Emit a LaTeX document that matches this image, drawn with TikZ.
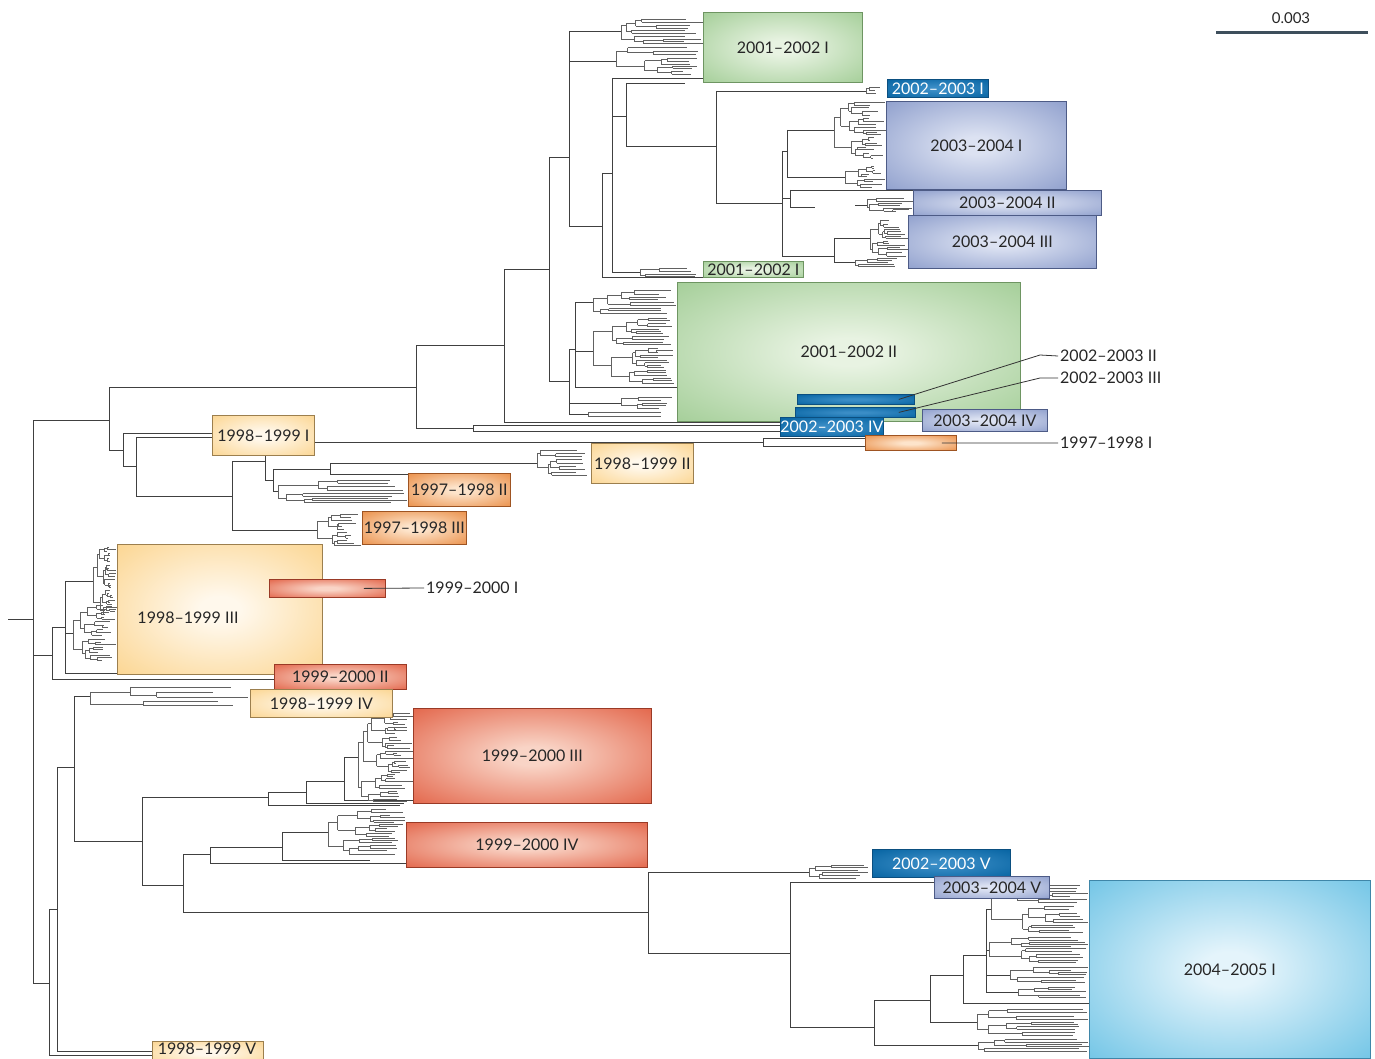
\documentclass[tikz,border=0pt]{standalone}
\usepackage{fontspec}
\setmainfont{Lato}
\definecolor{grIn}{HTML}{E8F3E2}\definecolor{grOut}{HTML}{97C78A}\definecolor{grLine}{HTML}{6E9562}
\definecolor{viIn}{HTML}{DCE2F2}\definecolor{viOut}{HTML}{8193C6}\definecolor{viLine}{HTML}{4D5B86}
\definecolor{dbIn}{HTML}{3A8DC6}\definecolor{dbOut}{HTML}{0865A3}\definecolor{dbLine}{HTML}{0B4F80}
\definecolor{orIn}{HTML}{FDE4CB}\definecolor{orOut}{HTML}{E8863A}\definecolor{orLine}{HTML}{9E5422}
\definecolor{yeIn}{HTML}{FFF8EC}\definecolor{yeOut}{HTML}{FBCF80}\definecolor{yeLine}{HTML}{9C7F4E}
\definecolor{reIn}{HTML}{F9D4C6}\definecolor{reOut}{HTML}{E0583B}\definecolor{reLine}{HTML}{9A3A26}
\definecolor{cyIn}{HTML}{E4F4FB}\definecolor{cyOut}{HTML}{5CBCE2}\definecolor{cyLine}{HTML}{3F86A8}
\definecolor{scalebar}{HTML}{3E4F5C}
\pgfdeclareradialshading{shGr}{\pgfpointorigin}{color(0bp)=(grIn); color(5bp)=(grIn); color(42bp)=(grOut); color(50bp)=(grOut)}
\pgfdeclareradialshading{shVi}{\pgfpointorigin}{color(0bp)=(viIn); color(5bp)=(viIn); color(42bp)=(viOut); color(50bp)=(viOut)}
\pgfdeclareradialshading{shDb}{\pgfpointorigin}{color(0bp)=(dbIn); color(5bp)=(dbIn); color(35bp)=(dbOut); color(50bp)=(dbOut)}
\pgfdeclareradialshading{shOr}{\pgfpointorigin}{color(0bp)=(orIn); color(5bp)=(orIn); color(40bp)=(orOut); color(50bp)=(orOut)}
\pgfdeclareradialshading{shYe}{\pgfpointorigin}{color(0bp)=(yeIn); color(5bp)=(yeIn); color(42bp)=(yeOut); color(50bp)=(yeOut)}
\pgfdeclareradialshading{shRe}{\pgfpointorigin}{color(0bp)=(reIn); color(5bp)=(reIn); color(40bp)=(reOut); color(50bp)=(reOut)}
\pgfdeclareradialshading{shCy}{\pgfpointorigin}{color(0bp)=(cyIn); color(5bp)=(cyIn); color(42bp)=(cyOut); color(50bp)=(cyOut)}
\newcommand\labfont{\fontsize{16}{19}\selectfont}
\tikzset{
  tree/.style={draw=black!75, line width=0.8pt},
  twig/.style={draw=black!62, line width=0.6pt},
  cb/.style={inner sep=0pt, anchor=north west, font=\labfont, text=black!85, line width=0.8pt, shade},
  gr/.style={cb, shading=shGr, draw=grLine},
  vi/.style={cb, shading=shVi, draw=viLine},
  db/.style={cb, shading=shDb, draw=dbLine, text=white},
  or/.style={cb, shading=shOr, draw=orLine},
  ye/.style={cb, shading=shYe, draw=yeLine},
  re/.style={cb, shading=shRe, draw=reLine},
  cy/.style={cb, shading=shCy, draw=cyLine},
  lbl/.style={font=\labfont, text=black!85, inner sep=2pt, anchor=west},
  lead/.style={draw=black!80, line width=0.8pt}
}
\def\rtmin{4}
\def\rtjit{20}
\newcommand\rtree[4]{%
  \begingroup
  \edef\rtXo{#1}\edef\rtT{#2}\edef\rtBo{#3}\edef\rtE{#4}%
  \pgfmathsetmacro\rtS{\rtT+(0.3+0.4*rnd)*(\rtBo-\rtT)}%
  \pgfmathsetmacro\rtYa{(\rtT+\rtS)/2}%
  \pgfmathsetmacro\rtYb{(\rtS+\rtBo)/2}%
  \draw[twig] (\rtXo,\rtYa) -- (\rtXo,\rtYb);
  \rtchild{\rtXo}{\rtT}{\rtS}{\rtE}%
  \rtchild{\rtXo}{\rtS}{\rtBo}{\rtE}%
  \endgroup}
\newcommand\rtchild[4]{%
  \begingroup
  \edef\rcP{#1}\edef\rcT{#2}\edef\rcB{#3}\edef\rcE{#4}%
  \pgfmathsetmacro\rcY{(\rcT+\rcB)/2}%
  \pgfmathsetmacro\rcH{\rcB-\rcT}%
  \ifdim\rcH pt<\rtmin pt
    \pgfmathsetmacro\rcX{max(\rcP+2,\rcE-rnd*\rtjit)}%
    \draw[twig] (\rcP,\rcY) -- (\rcX,\rcY);
  \else
    \pgfmathsetmacro\rcX{\rcP+(0.04+0.3*rnd)*(\rcE-\rcP)}%
    \draw[twig] (\rcP,\rcY) -- (\rcX,\rcY);
    \rtree{\rcX}{\rcT}{\rcB}{\rcE}%
  \fi
  \endgroup}
\newcommand\rnode[5]{%
  \pgfmathsetmacro\rnY{(#3+#4)/2}%
  \draw[tree] (#1,\rnY) -- (#2,\rnY);
  \rtree{#2}{#3}{#4}{#5}}
\newcommand\cbox[7]{%
  \node[#6, minimum width={(#4-#2)*1pt}, minimum height={(#5-#3)*1pt}] (#1) at (#2,#3) {#7};}
\begin{document}
\begin{tikzpicture}[x=1pt,y=-1pt]
\useasboundingbox (0,0) rectangle (1375,1059);
\fill[white] (0,0) rectangle (1375,1059);
\pgfmathsetseed{4711}
% ---------- backbone ----------
\draw[tree] (8,619) -- (33,619) (33,420) -- (33,983)
  (33,420) -- (109,420) (109,387) -- (109,450) (109,387) -- (416,387)
  (416,345) -- (416,428) (416,345) -- (504,345) (504,269) -- (504,422)
  (504,269) -- (549,269) (504,422) -- (780,422)
  (416,428) -- (473,428) (473,425) -- (473,431) (473,425) -- (780,425) (473,431) -- (780,431);
% top clade
\draw[tree] (549,157) -- (549,381) (549,157) -- (569,157) (569,31) -- (569,226)
  (569,226) -- (602,226) (602,173) -- (602,277) (602,173) -- (612,173) (602,277) -- (703,277)
  (612,78) -- (612,272) (612,78) -- (703,78) (612,116) -- (626,116)
  (626,83) -- (626,146) (626,83) -- (685,83) (626,146) -- (716,146)
  (716,91) -- (716,203) (716,203) -- (782,203) (782,151) -- (782,256)
  (782,151) -- (787,151) (787,130) -- (787,177) (782,198) -- (790,198)
  (790,190) -- (790,207) (790,190) -- (913,190) (790,207) -- (815,207) (855,205) -- (867,205)
  (782,256) -- (834,256) (834,238) -- (834,262);
\rnode{569}{621}{17}{45}{703}
\rnode{569}{616}{46}{76}{703}
\def\rtmin{5}
\rnode{612}{640}{266}{278}{703}
\rnode{716}{866}{86}{96}{887}
\def\rtmin{4}
\rnode{787}{834}{100}{160}{886}
\rnode{787}{845}{165}{189}{886}
\rtree{867}{197}{213}{913}
\rnode{834}{870}{218}{258}{908}
\rnode{834}{855}{257}{268}{908}
% 2001-2002 II clade
\draw[tree] (549,381) -- (569,381) (569,349) -- (569,414) (569,349) -- (575,349)
  (575,302) -- (575,387) (575,387) -- (677,387);
\rnode{575}{593}{289}{315}{677}
\rnode{575}{593}{317}{385}{677}
\rnode{569}{621}{396}{410}{677}
\rnode{569}{588}{411}{418}{677}
% 1998-1999 I / 1997-1998 clades
\draw[tree] (109,450) -- (123,450) (123,433) -- (123,466) (123,433) -- (212,433)
  (300,442) -- (763,442) (763,438) -- (763,446) (763,438) -- (866,438) (763,446) -- (866,446)
  (123,466) -- (136,466) (136,437) -- (136,496) (136,437) -- (212,437) (136,496) -- (232,496)
  (232,461) -- (232,530) (232,461) -- (265,461) (265,445) -- (265,480) (265,480) -- (273,480)
  (273,469) -- (273,491) (273,469) -- (330,469) (330,463) -- (330,474) (330,474) -- (408,474)
  (232,530) -- (317,530);
\rnode{330}{537}{449}{477}{591}
\rnode{273}{278}{478}{504}{408}
\rtree{317}{513}{547}{362}
% 1998-1999 III clade
\draw[tree] (33,655) -- (52,655) (52,627) -- (52,679) (52,679) -- (274,679) (52,627) -- (65,627)
  (65,581) -- (65,673) (65,673) -- (117,673);
\rnode{65}{93}{546}{616}{117}
\rnode{65}{73}{604}{662}{117}
% lower clades
\draw[tree] (33,983) -- (49,983) (49,909) -- (49,1055) (49,909) -- (57,909)
  (57,767) -- (57,1051) (57,1051) -- (152,1051) (49,1055) -- (152,1055)
  (57,767) -- (74,767) (74,696) -- (74,841) (74,841) -- (142,841)
  (142,797) -- (142,885) (142,797) -- (268,797) (268,792) -- (268,805) (268,805) -- (400,805)
  (268,792) -- (306,792) (306,781) -- (306,803) (306,803) -- (404,803) (306,781) -- (344,781)
  (344,757) -- (344,800) (344,800) -- (413,800)
  (142,885) -- (183,885) (183,854) -- (183,912) (183,854) -- (210,854)
  (210,847) -- (210,863) (210,863) -- (406,863) (210,847) -- (282,847)
  (282,832) -- (282,860) (282,860) -- (370,860)
  (183,912) -- (648,912) (648,872) -- (648,953)
  (648,953) -- (790,953) (790,882) -- (790,1027) (790,882) -- (934,882) (790,1027) -- (874,1027)
  (874,1000) -- (874,1045) (874,1000) -- (930,1000) (930,975) -- (930,1022) (930,975) -- (963,975)
  (963,955) -- (963,1003) (963,1003) -- (1089,1003) (963,955) -- (986,955) (986,909) -- (986,992);
\def\rtmin{7}\def\rtjit{40}
\rnode{74}{90}{684}{708}{250}
\def\rtmin{4}\def\rtjit{20}
\rnode{344}{358}{712}{802}{413}
\rnode{282}{328}{808}{856}{406}
\rnode{648}{809}{864}{880}{872}
\rnode{986}{991}{884}{934}{1089}
\rnode{986}{989}{936}{964}{1089}
\rnode{986}{1010}{966}{984}{1089}
\rnode{986}{1018}{986}{998}{1089}
\rnode{930}{977}{1007}{1037}{1089}
\rnode{874}{978}{1038}{1052}{1089}
% ---------- boxes ----------
\cbox{b0102a}{703}{12}{862}{82}{gr}{2001–2002 I}
\cbox{b0203a}{887}{79}{988}{97}{db}{2002–2003 I}
\cbox{b0304a}{886}{101}{1066}{189}{vi}{2003–2004 I}
\cbox{b0304b}{913}{190}{1101}{215}{vi}{2003–2004 II}
\cbox{b0304c}{908}{215}{1096}{268}{vi}{2003–2004 III}
\cbox{b0102b}{703}{261}{803}{277}{gr}{2001–2002 I}
\cbox{b0102c}{677}{282}{1020}{421}{gr}{2001–2002 II}
\cbox{bar0203b}{797}{394}{914}{404}{db}{}
\cbox{bar0203c}{795}{407}{915}{417}{db}{}
\cbox{b0203d}{780}{417}{882}{436}{db}{2002–2003 IV}
\cbox{b0304d}{922}{409}{1047}{431}{vi}{2003–2004 IV}
\cbox{bar9798a}{865}{435}{956}{450}{or}{}
\cbox{b9899a}{212}{415}{314}{455}{ye}{1998–1999 I}
\cbox{b9899b}{591}{443}{693}{483}{ye}{1998–1999 II}
\cbox{b9798b}{408}{473}{510}{506}{or}{1997–1998 II}
\cbox{b9798c}{362}{511}{466}{544}{or}{1997–1998 III}
\cbox{b9899c}{117}{544}{322}{674}{ye}{}
\node[font=\labfont, text=black!85] (t9899c) at (188,618) {1998–1999 III};
\cbox{bar9900a}{269}{579}{385}{597}{re}{}
\cbox{b9900b}{274}{664}{406}{689}{re}{1999–2000 II}
\cbox{b9899d}{250}{689}{392}{717}{ye}{1998–1999 IV}
\cbox{b9900c}{413}{708}{651}{803}{re}{1999–2000 III}
\cbox{b9900d}{406}{822}{647}{867}{re}{1999–2000 IV}
\cbox{b0203e}{872}{849}{1010}{877}{db}{2002–2003 V}
\cbox{b0304e}{934}{876}{1049}{898}{vi}{2003–2004 V}
\cbox{b0405}{1089}{880}{1370}{1058}{cy}{2004–2005 I}
\cbox{b9899e}{152}{1041}{263}{1064}{ye}{}
\node[font=\labfont, text=black!85, inner sep=1pt] (t9899e) at (207,1049) {1998–1999 V};
% ---------- outside labels ----------
\node[lbl] (t0203b) at (1058,356) {2002–2003 II};
\node[lbl] (t0203c) at (1058,378) {2002–2003 III};
\node[lbl] (t9798a) at (1058,443) {1997–1998 I};
\node[lbl] (t9900a) at (424,588) {1999–2000 I};
\draw[lead] ([xshift=-16pt]bar0203b.east) -- (1040,355) -- (t0203b.west);
\draw[lead] ([xshift=-17pt]bar0203c.east) -- (1040,378) -- (t0203c.west);
\draw[lead] ([xshift=-15pt]bar9798a.east) -- (t9798a.west);
\draw[lead] ([xshift=-22pt]bar9900a.east) -- (t9900a.west);
% ---------- scale bar ----------
\coordinate (sbA) at (1216,33);
\coordinate (sbB) at (1368,33);
\draw[scalebar, line width=3pt] (sbA) -- (sbB);
\node[font=\fontsize{15}{18}\selectfont, text=black!85] (sbl) at (1291,18) {0.003};
\end{tikzpicture}
\end{document}
